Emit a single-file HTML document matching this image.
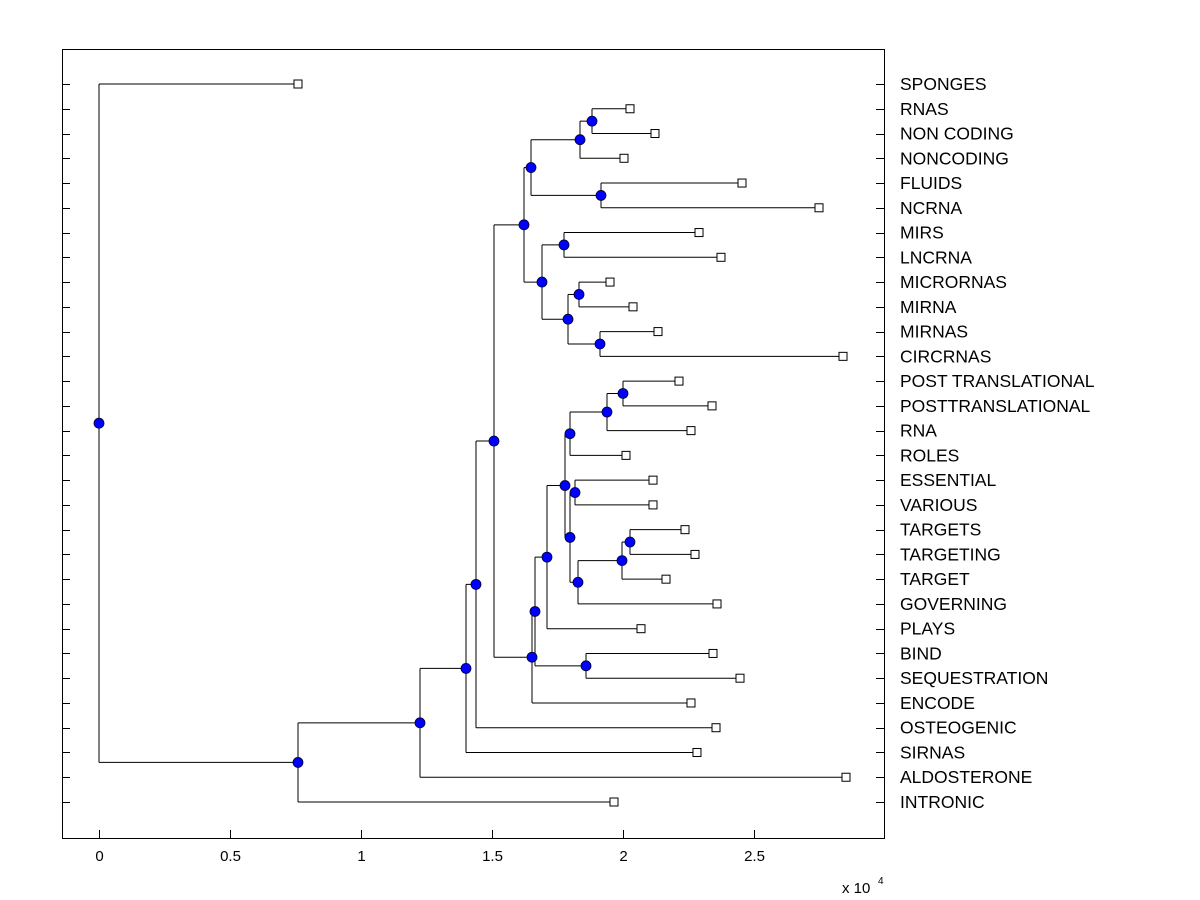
<!DOCTYPE html>
<html><head><meta charset="utf-8"><style>
html,body{margin:0;padding:0;background:#fff;}
svg{display:block;font-family:"Liberation Sans",Arial,sans-serif;}
</style></head><body>
<svg id="chart" width="1200" height="900" viewBox="0 0 1200 900" xmlns="http://www.w3.org/2000/svg">
<rect x="0" y="0" width="1200" height="900" fill="#fff"/>
<rect x="62.5" y="49.5" width="822" height="789" fill="#fff" stroke="#000" stroke-width="1"/>
<g id="ticks"></g><g id="links"></g><g id="marks"></g><g id="labels"></g>
<text x="842" y="893" font-size="15">x 10</text>
<text x="878" y="884" font-size="10">4</text>
</svg>
<script>
const leafNames = ["SPONGES","RNAS","NON CODING","NONCODING","FLUIDS","NCRNA","MIRS","LNCRNA","MICRORNAS","MIRNA","MIRNAS","CIRCRNAS","POST TRANSLATIONAL","POSTTRANSLATIONAL","RNA","ROLES","ESSENTIAL","VARIOUS","TARGETS","TARGETING","TARGET","GOVERNING","PLAYS","BIND","SEQUESTRATION","ENCODE","OSTEOGENIC","SIRNAS","ALDOSTERONE","INTRONIC"];
const leafValues = [7595,20267,21221,20038,24542,27481,22901,23740,19504,20382,21336,28397,22137,23397,22595,20115,21145,21145,22366,22748,21641,23588,20687,23435,24466,22595,23550,22824,28511,19656];
const mergeHeights = [18817,18359,19160,16489,17748,18321,19122,17901,16908,16221,20000,19389,17977,18168,20267,19962,18282,17977,17786,17099,18588,16641,16527,15076,14389,14008,12252,7595,0];
const mergeChildren = [
 [1,2],["n0",3],[4,5],["n1","n2"],[6,7],[8,9],[10,11],["n5","n6"],["n4","n7"],["n3","n8"],
 [12,13],["n10",14],["n11",15],[16,17],[18,19],["n14",20],["n15",21],["n13","n16"],["n12","n17"],["n18",22],
 [23,24],["n19","n20"],["n21",25],["n9","n22"],["n23",26],["n24",27],["n25",28],["n26",29],[0,"n27"]
];
const xTicks = [0,0.5,1,1.5,2,2.5];
</script>
<script>
const NS="http://www.w3.org/2000/svg";
const X0=99, XS=262/10000, Y0=84, YS=(802-84)/29;
const xp=v=>X0+v*XS, yp=i=>Y0+i*YS;
function mk(tag,attrs,parent){const e=document.createElementNS(NS,tag);for(const k in attrs)e.setAttribute(k,attrs[k]);document.getElementById(parent).appendChild(e);return e;}
xTicks.forEach((t,i)=>{
 const x=Math.round(xp(t*10000))+0.5;
 let e=mk("line",{x1:x,x2:x,y1:838,y2:830,stroke:"#000"},"ticks");
 
 
 e=mk("text",{x:x,y:861,"font-size":15,"text-anchor":"middle"},"ticks");e.textContent=String(t);
 
 
});
leafNames.forEach((n,i)=>{
 const y=Math.round(yp(i))+0.5;
 let e=mk("line",{x1:62,x2:70,y1:y,y2:y,stroke:"#000"},"ticks");
 
 
 e=mk("line",{x1:876,x2:884,y1:y,y2:y,stroke:"#000"},"ticks");
 
 
 e=mk("text",{x:900,y:yp(i)+6,"font-size":17.5},"labels");e.textContent=n;
 
 
});
const nodeY=[];
const getY=c=>typeof c==="number"?yp(c):nodeY[+c.slice(1)];
const getX=c=>typeof c==="number"?xp(leafValues[c]):xp(mergeHeights[+c.slice(1)]);
mergeChildren.forEach((m,k)=>{
 const [a,b]=m;const ya=getY(a),yb=getY(b);nodeY[k]=(ya+yb)/2;
 const x=xp(mergeHeights[k]);
 let e=mk("line",{x1:x,x2:x,y1:ya,y2:yb,stroke:"#000"},"links");
 
 
 [a,b].forEach(c=>{
  const y=getY(c);
  const l=mk("line",{x1:x,x2:getX(c),y1:y,y2:y,stroke:"#000"},"links");
  
  
 });
});
mergeChildren.forEach((m,k)=>{
 const c=mk("circle",{cx:xp(mergeHeights[k]),cy:nodeY[k],r:5,fill:"#0000ff",stroke:"#000033","stroke-width":0.8},"marks");
 
 
});
leafValues.forEach((v,i)=>{
 const r=mk("rect",{x:xp(v)-4,y:yp(i)-4,width:8,height:8,fill:"#fff",stroke:"#000"},"marks");
 
 
});
</script>
</body></html>
